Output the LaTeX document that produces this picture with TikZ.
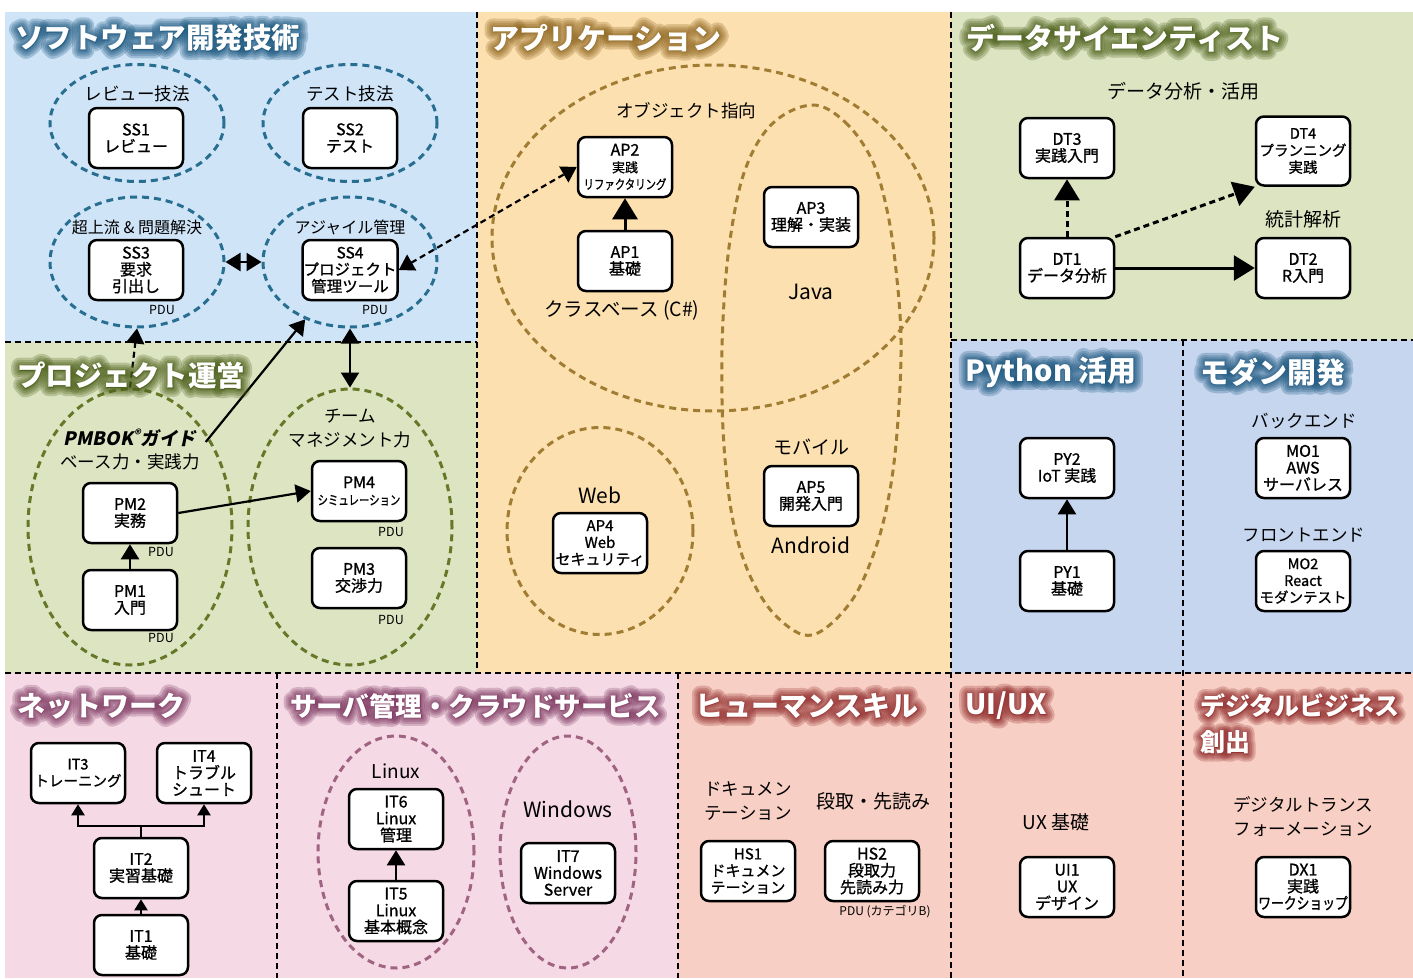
\documentclass[tikz,border=0pt]{standalone}
\usepackage{fontspec}
\setmainfont{Noto Sans CJK JP}
\newfontfamily\slantfont{Noto Sans CJK JP}[FakeSlant=0.2]
\newfontfamily\tightfont{Noto Sans CJK JP}[FakeStretch=0.8, FakeBold=1]
\newfontfamily\boxfont{Noto Sans CJK JP}[FakeBold=1]
% halo layers for the section headings
\newfontfamily\glowA{Noto Sans CJK JP}[FakeBold=60]
\newfontfamily\glowB{Noto Sans CJK JP}[FakeBold=44]
\newfontfamily\glowC{Noto Sans CJK JP}[FakeBold=30]
\newfontfamily\glowD{Noto Sans CJK JP}[FakeBold=17]
\newfontfamily\glowE{Noto Sans CJK JP}[FakeBold=7]
\usetikzlibrary{arrows.meta,shapes.geometric,positioning}

\definecolor{swbg}{RGB}{207,228,247}
\definecolor{pmbg}{RGB}{221,228,194}
\definecolor{apbg}{RGB}{252,224,175}
\definecolor{pybg}{RGB}{197,214,238}
\definecolor{itbg}{RGB}{245,217,229}
\definecolor{hsbg}{RGB}{248,207,196}
\definecolor{swline}{RGB}{40,110,145}
\definecolor{pmline}{RGB}{100,120,40}
\definecolor{apline}{RGB}{160,125,50}
\definecolor{itline}{RGB}{160,100,130}
\definecolor{swglow}{RGB}{25,85,125}
\definecolor{pmglow}{RGB}{75,95,25}
\definecolor{apglow}{RGB}{140,100,30}
\definecolor{itglow}{RGB}{125,55,95}
\definecolor{hsglow}{RGB}{145,45,45}

% section heading: white text on a soft dark halo
\newcommand{\glowtitle}[5][28.5]{%
  \begin{scope}[opacity=0.26, line join=round]
    \foreach \halo in {\glowA,\glowB,\glowC,\glowD,\glowE}
      \node[heading, text=#4, font=\halo\fontsize{#1}{36}\selectfont\bfseries] at (#3) {#5};
  \end{scope}
  \node[heading, text=white, font=\fontsize{#1}{36}\selectfont\bfseries] (#2) at (#3) {#5};
}
\newcommand{\sm}{\fontsize{13}{14}\selectfont}

\begin{document}
\begin{tikzpicture}[x=1pt, y=-1pt,
  skill/.style={draw, line width=2.5pt, rounded corners=8pt, fill=white,
    minimum width=94pt, minimum height=60pt, align=center, inner sep=1pt,
    font=\boxfont\fontsize{16}{16.8}\selectfont},
  cluster/.style={ellipse, draw=#1, line width=3pt, dash pattern=on 7pt off 5pt, inner sep=0pt},
  grouplabel/.style={align=center, font=\fontsize{17.5}{24}\selectfont},
  biglabel/.style={align=center, font=\fontsize{19}{24}\selectfont},
  latinlabel/.style={align=center, font=\fontsize{21}{24}\selectfont},
  pdu/.style={font=\fontsize{12.5}{13}\selectfont},
  heading/.style={anchor=west, align=left, inner sep=0pt},
  divider/.style={line width=2pt, dash pattern=on 6pt off 4pt},
  flow/.style={line width=2.2pt, -{Triangle[length=15pt,width=18pt]}},
  bothflow/.style={line width=2.2pt, {Triangle[length=15pt,width=18pt]}-{Triangle[length=15pt,width=18pt]}},
  bigflow/.style={line width=3pt, -{Triangle[length=21pt,width=25pt]}},
  smallflow/.style={line width=2pt, -{Triangle[length=11pt,width=13pt]}},
  dashflow/.style={dash pattern=on 6pt off 4pt}
]
\useasboundingbox (0,0) rectangle (1413,978);

% backgrounds
\fill[white] (0,0) rectangle (1413,978);
\fill[swbg] (5,12) rectangle (477,342);
\fill[pmbg] (5,342) rectangle (477,673);
\fill[apbg] (477,12) rectangle (951,673);
\fill[pmbg] (951,12) rectangle (1413,340);
\fill[pybg] (951,340) rectangle (1413,673);
\fill[itbg] (5,673) rectangle (678,978);
\fill[hsbg] (678,673) rectangle (1413,978);

\draw[divider] (477,12) -- (477,673);
\draw[divider] (951,12) -- (951,978);
\draw[divider] (1183,340) -- (1183,978);
\draw[divider] (277,673) -- (277,978);
\draw[divider] (678,673) -- (678,978);
\draw[divider] (5,342) -- (477,342);
\draw[divider] (951,340) -- (1413,340);
\draw[divider] (5,673) -- (1413,673);

% groups
\node[cluster=swline, minimum width=174pt, minimum height=117pt] (review) at (137,123) {};
\node[cluster=swline, minimum width=174pt, minimum height=117pt] (testing) at (350,123) {};
\node[cluster=swline, minimum width=174pt, minimum height=130pt] (upstream) at (137,262) {};
\node[cluster=swline, minimum width=174pt, minimum height=130pt] (agile) at (350,262) {};

\node[cluster=pmline, minimum width=204pt, minimum height=276pt] (basics) at (130,527) {};
\node[cluster=pmline, minimum width=204pt, minimum height=276pt] (team) at (350,527) {};

\node[cluster=apline, minimum width=442pt, minimum height=346pt] (oop) at (713,238) {};
\node[cluster=apline, minimum width=186pt, minimum height=207pt] (web) at (600,531) {};
\draw[apline, line width=3pt, dash pattern=on 7pt off 5pt] plot[smooth cycle, tension=0.6] coordinates {
  (812,105) (845,122) (872,160) (887,210) (896,270) (901,340) (898,420) (890,490)
  (875,550) (850,603) (812,635) (778,618) (752,580) (735,530) (726,470) (722,400)
  (723,320) (730,240) (745,170) (772,124)};

\node[cluster=itline, minimum width=156pt, minimum height=232pt] (linux) at (396,852) {};
\node[cluster=itline, minimum width=136pt, minimum height=232pt] (windows) at (568,852) {};

% skill boxes
\node[skill] (ss1) at (136,138) {SS1\\レビュー};
\node[skill] (ss2) at (350,138) {SS2\\テスト};
\node[skill] (ss3) at (136,270) {SS3\\要求\\引出し};
\node[skill, font=\boxfont\fontsize{15.5}{16.8}\selectfont] (ss4) at (350,270) {SS4\\プロジェクト\\管理ツール};

\node[skill] (pm2) at (130,513) {PM2\\実務};
\node[skill] (pm1) at (130,600) {PM1\\入門};
\node[skill] (pm4) at (359,491) {PM4\\{\tightfont\sm シミュレーション}};
\node[skill] (pm3) at (359,578) {PM3\\交渉力};

\node[skill] (ap2) at (625,167) {AP2\\{\sm 実践}\\{\tightfont\sm リファクタリング}};
\node[skill] (ap1) at (625,261) {AP1\\基礎};
\node[skill] (ap3) at (811,217) {AP3\\理解・実装};
\node[skill] (ap5) at (811,496) {AP5\\開発入門};
\node[skill, font=\boxfont\fontsize{15}{16.8}\selectfont] (ap4) at (600,543) {AP4\\Web\\セキュリティ};

\node[skill] (dt3) at (1067,148) {DT3\\実践入門};
\node[skill, minimum height=69pt, font=\boxfont\fontsize{14.5}{17}\selectfont] (dt4) at (1303,151) {DT4\\プランニング\\実践};
\node[skill] (dt1) at (1067,268) {DT1\\データ分析};
\node[skill] (dt2) at (1303,268) {DT2\\R入門};

\node[skill] (py2) at (1067,468) {PY2\\IoT 実践};
\node[skill] (py1) at (1067,581) {PY1\\基礎};
\node[skill] (mo1) at (1303,468) {MO1\\AWS\\サーバレス};
\node[skill, font=\boxfont\fontsize{14.5}{16.8}\selectfont] (mo2) at (1303,581) {MO2\\React\\モダンテスト};

\node[skill, font=\boxfont\fontsize{14.5}{16.8}\selectfont] (it3) at (78,773) {IT3\\トレーニング};
\node[skill] (it4) at (204,773) {IT4\\トラブル\\シュート};
\node[skill] (it2) at (141,868) {IT2\\実習基礎};
\node[skill] (it1) at (141,945) {IT1\\基礎};
\node[skill] (it6) at (396,819) {IT6\\Linux\\管理};
\node[skill] (it5) at (396,911) {IT5\\Linux\\基本概念};
\node[skill] (it7) at (568,873) {IT7\\Windows\\Server};

\node[skill, font=\boxfont\fontsize{15}{16.8}\selectfont] (hs1) at (748,871) {HS1\\ドキュメン\\テーション};
\node[skill] (hs2) at (872,871) {HS2\\段取力\\先読み力};
\node[skill] (ui1) at (1067,887) {UI1\\UX\\デザイン};
\node[skill] (dx1) at (1303,887) {DX1\\実践\\{\tightfont ワークショップ}};

% group labels
\node[grouplabel] (reviewlbl) at (137,94) {レビュー技法};
\node[grouplabel] (testlbl) at (350,94) {テスト技法};
\node[grouplabel, font=\fontsize{16}{20}\selectfont] (upstreamlbl) at (137,227) {超上流 \& 問題解決};
\node[grouplabel, font=\fontsize{16}{20}\selectfont] (agilelbl) at (350,227) {アジャイル管理};
\node[grouplabel, font=\fontsize{18.5}{24}\selectfont] (pmboklbl) at (130,438) {{\slantfont\bfseries PMBOK\textsuperscript{®}ガイド}};
\node[grouplabel] (baselbl) at (130,462) {ベース力・実践力};
\node[grouplabel] (teamlbl) at (350,429) {チーム\\マネジメント力};
\node[grouplabel] (ooplbl) at (686,111) {オブジェクト指向};
\node[biglabel, font=\fontsize{19.5}{24}\selectfont] (classlbl) at (622,310) {クラスベース (C\#)};
\node[latinlabel] (javalbl) at (811,292) {Java};
\node[biglabel] (mobilelbl) at (811,447) {モバイル};
\node[latinlabel] (androidlbl) at (811,545) {Android};
\node[latinlabel] (weblbl) at (600,495) {Web};
\node[biglabel] (datalbl) at (1183,91) {データ分析・活用};
\node[biglabel] (statlbl) at (1303,219) {統計解析};
\node[grouplabel] (backlbl) at (1304,421) {バックエンド};
\node[grouplabel] (frontlbl) at (1304,535) {フロントエンド};
\node[latinlabel, font=\fontsize{19}{24}\selectfont] (linuxlbl) at (396,771) {Linux};
\node[latinlabel] (winlbl) at (568,809) {Windows};
\node[grouplabel] (doclbl) at (748,801) {ドキュメン\\テーション};
\node[biglabel] (planlbl) at (873,801) {段取・先読み};
\node[biglabel] (uxlbl) at (1056,822) {UX 基礎};
\node[grouplabel] (dxlbl) at (1303,817) {デジタルトランス\\フォーメーション};

\node[pdu] at (162,310) {PDU};
\node[pdu] at (375,310) {PDU};
\node[pdu] at (161,552) {PDU};
\node[pdu] at (161,638) {PDU};
\node[pdu] at (391,532) {PDU};
\node[pdu] at (391,620) {PDU};
\node[pdu, font=\fontsize{12}{13}\selectfont] at (885,912) {PDU (カテゴリB)};

% connections
\draw[bothflow] (upstream.east) -- (agile.west);
\draw[bothflow, dashflow] (ss4.east) -- (ap2.west);
\draw[bothflow] (agile.south) -- (team.north);
\draw[flow, dashflow] (basics.north) -- (upstream.south);
\draw[flow] ([xshift=6pt,yshift=-4pt]pmboklbl.east) -- (agile.232);
\draw[flow] (pm1) -- (pm2);
\draw[flow] (pm2.east) -- (pm4.west);
\draw[bigflow] (ap1) -- (ap2);
\draw[bigflow, dashflow] (dt1) -- (dt3);
\draw[bigflow, dashflow] (dt1.north east) -- (dt4.south west);
\draw[bigflow] (dt1) -- (dt2);
\draw[flow] (py1) -- (py2);
\draw[flow] (it5) -- (it6);
\coordinate (itfork) at (141,826);
\draw[line width=2pt] (it2.north) -- (itfork);
\draw[smallflow] (itfork) -| (it3.south);
\draw[smallflow] (itfork) -| (it4.south);
\draw[smallflow] (it1) -- (it2);

% section headings
\glowtitle{swtitle}{15,38}{swglow}{ソフトウェア開発技術}
\glowtitle{pmtitle}{17,376}{pmglow}{プロジェクト運営}
\glowtitle[29]{aptitle}{490,38}{apglow}{アプリケーション}
\glowtitle[29]{dttitle}{966,38}{pmglow}{データサイエンティスト}
\glowtitle[29]{pytitle}{965,372}{swglow}{Python 活用}
\glowtitle[29]{motitle}{1200,372}{swglow}{モダン開発}
\glowtitle[28]{nwtitle}{17,706}{itglow}{ネットワーク}
\glowtitle[26.5]{svtitle}{290,706}{itglow}{サーバ管理・クラウドサービス}
\glowtitle[28]{hstitle}{695,706}{hsglow}{ヒューマンスキル}
\glowtitle[28]{uititle}{965,706}{hsglow}{UI/UX}
\glowtitle[25]{dxtitle}{1200,724}{hsglow}{デジタルビジネス\\創出}
\end{tikzpicture}
\end{document}
